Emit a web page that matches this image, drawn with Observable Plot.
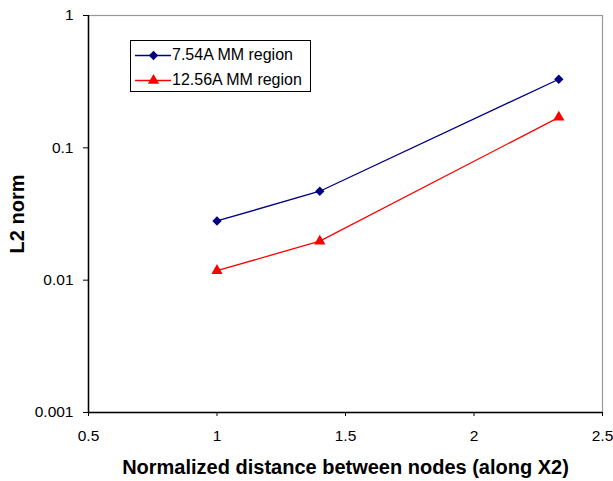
<!DOCTYPE html>
<html><head><meta charset="utf-8">
<script src="https://cdn.jsdelivr.net/npm/d3@7"></script>
<script src="https://cdn.jsdelivr.net/npm/@observablehq/plot@0.6"></script>
<style>
html,body{margin:0;padding:0;background:#fff;}
#wrap{position:relative;width:613px;height:481px;font-family:"Liberation Sans",Arial,sans-serif;}
g[aria-label="y-axis label"] text, g[aria-label="x-axis label"] text{font-weight:bold;font-size:20px;}
g[aria-label="y-axis tick label"] text, g[aria-label="x-axis tick label"] text{font-size:15.5px;}
#legend{position:absolute;left:130px;top:40px;width:181px;height:52px;border:1px solid #000;background:#fff;box-sizing:border-box;font-size:16px;color:#000;}
#legend .row{position:absolute;left:4px;height:20px;display:flex;align-items:center;}
</style>
</head><body>
<div id="wrap"></div>
<script>
const xValues = [1, 1.4, 2.33];
const series = ["7.54A MM region", "12.56A MM region"];
const values754 = [0.028, 0.047, 0.33];
const values1256 = [0.0118, 0.0197, 0.17];
const colors = ["#000080", "#ff0000"];
const symbols = ["diamond2", "triangle"];
const xTicks = [0.5, 1, 1.5, 2, 2.5];
const yTicks = [0.001, 0.01, 0.1, 1];

const data = [];
[values754, values1256].forEach((vals, si) => {
  vals.forEach((v, i) => data.push({x: xValues[i], y: v, s: series[si]}));
});

const chart = Plot.plot({
  width: 613, height: 481,
  marginLeft: 88, marginRight: 11, marginTop: 15, marginBottom: 69,
  style: {fontFamily: "Liberation Sans, Arial, sans-serif", fontSize: "15px", color: "#000", background: "#fff"},
  x: {domain: [0.5, 2.5]},
  y: {type: "log", domain: [0.001, 1]},
  color: {domain: series, range: colors},
  symbol: {domain: series, range: symbols},
  marks: [
    Plot.frame({stroke: "#999", strokeWidth: 1.2}),
    Plot.axisX({ticks: xTicks, tickFormat: d => String(d), tickSize: 4, tickPadding: 13, fontSize: 15, label: "Normalized distance between nodes (along X2)", labelAnchor: "center", labelOffset: 61, labelArrow: false, stroke: "#000"}),
    Plot.axisY({ticks: yTicks, tickFormat: d => String(d), tickSize: 5, tickPadding: 10, fontSize: 15, label: "L2 norm", labelAnchor: "center", labelOffset: 79, labelArrow: false, stroke: "#000"}),
    Plot.ruleX([0.5], {stroke: "#000", strokeWidth: 1.5}),
    Plot.ruleY([0.001], {stroke: "#000", strokeWidth: 1.5}),
    Plot.line(data, {x: "x", y: "y", stroke: "s", strokeWidth: 1.3}),
    Plot.dot(data, {x: "x", y: "y", fill: "s", symbol: "s", r: 4.2, stroke: "none"})
  ]
});
const wrap = document.getElementById("wrap");
wrap.appendChild(chart);

// legend
const lg = document.createElement("div");
lg.id = "legend";
series.forEach((name, i) => {
  const row = document.createElement("div");
  row.className = "row";
  row.style.top = (4 + i * 25) + "px";
  const sym = Plot.plot({
    width: 36, height: 20, margin: 0,
    x: {domain: [0, 1], axis: null}, y: {domain: [0, 1], axis: null},
    marks: [
      Plot.ruleY([0.5], {x1: 0, x2: 1, stroke: colors[i], strokeWidth: 1.3}),
      Plot.dot([{x: 0.5, y: 0.5}], {x: "x", y: "y", fill: colors[i], symbol: symbols[i], r: 4.2})
    ]
  });
  sym.style.display = "block";
  row.appendChild(sym);
  const t = document.createElement("span");
  t.textContent = name;
  t.style.marginLeft = "1px";
  row.appendChild(t);
  lg.appendChild(row);
});
wrap.appendChild(lg);
</script>
</body></html>
